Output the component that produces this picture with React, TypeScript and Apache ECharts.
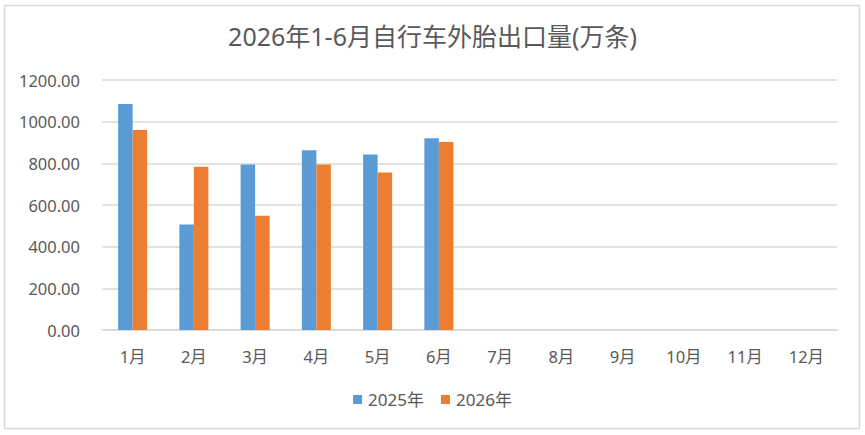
import React, { useEffect, useRef } from "react";
import * as echarts from "echarts";

const categories = ["1月", "2月", "3月", "4月", "5月", "6月", "7月", "8月", "9月", "10月", "11月", "12月"];
const series2025 = [1085, 506, 794, 863, 842, 920];
const series2026 = [960, 784, 548, 794, 756, 903];
const seriesNames = ["2025年", "2026年"];
const titleText = "2026年1-6月自行车外胎出口量(万条)";

const FONT = "'Noto Sans', 'Noto Sans CJK SC', sans-serif";

export default function App() {
  const ref = useRef<HTMLDivElement>(null);
  useEffect(() => {
    document.body.style.margin = "0";
    if (!ref.current) return;
    const chart = echarts.init(ref.current, undefined, { renderer: "svg" });
    chart.setOption({
      animation: false,
      backgroundColor: "#ffffff",
      textStyle: { fontFamily: FONT },
      title: {
        text: titleText,
        left: "center",
        top: 18,
        textStyle: { fontSize: 25, fontWeight: "normal", color: "#595959", fontFamily: FONT },
      },
      graphic: [
        {
          type: "rect",
          shape: { x: 4.5, y: 5.5, width: 855, height: 423 },
          style: { fill: "none", stroke: "#d9d9d9", lineWidth: 1.5 },
          silent: true,
        },
      ],
      legend: {
        top: 386,
        left: "center",
        icon: "rect",
        itemWidth: 9,
        itemHeight: 9,
        itemGap: 17,
        textStyle: { fontSize: 17, color: "#595959", fontFamily: FONT, padding: [0, 0, 0, 1] },
        data: seriesNames,
      },
      grid: { left: 102, right: 28, top: 80, bottom: 105, containLabel: false },
      xAxis: {
        type: "category",
        data: categories,
        axisLine: { lineStyle: { color: "#d9d9d9", width: 1.5 } },
        axisTick: { show: false },
        axisLabel: { fontSize: 16.5, color: "#595959", margin: 18, fontFamily: FONT },
      },
      yAxis: {
        type: "value",
        min: 0,
        max: 1200,
        interval: 200,
        axisLine: { show: false },
        axisTick: { show: false },
        splitLine: { lineStyle: { color: "#d9d9d9", width: 1.5 } },
        axisLabel: {
          fontSize: 16.5,
          color: "#595959",
          margin: 22,
          fontFamily: FONT,
          formatter: (v: number) => v.toFixed(2),
        },
      },
      series: [
        {
          name: seriesNames[0],
          type: "bar",
          data: series2025,
          barWidth: 14.5,
          barGap: "0%",
          itemStyle: { color: "#5B9BD5" },
        },
        {
          name: seriesNames[1],
          type: "bar",
          data: series2026,
          barWidth: 14.5,
          barGap: "0%",
          itemStyle: { color: "#ED7D31" },
        },
      ],
    });
    return () => chart.dispose();
  }, []);
  return <div ref={ref} style={{ width: 865, height: 435 }} />;
}
